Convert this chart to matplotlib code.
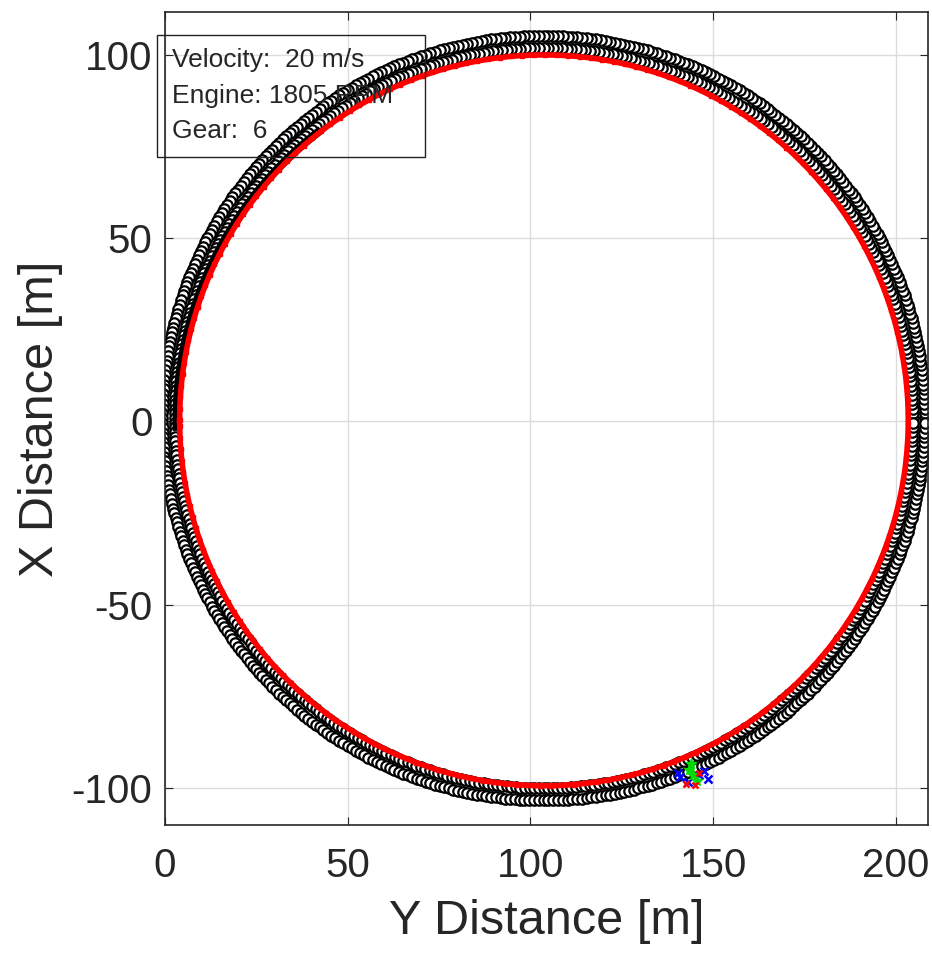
import numpy as np
import matplotlib.pyplot as plt

plt.rcParams['font.family'] = ['Liberation Sans', 'DejaVu Sans']
plt.rcParams['axes.unicode_minus'] = False

# track geometry (metres)
track_center = (103.6, 0.9)
edge_radii = [101.0, 104.3]      # inner / outer road edge markers
n_edge_markers = 500
path_center = (103.7, 0.3)
path_radius = 99.7
start_trace_deg = [181, 128]     # black trace at the start of the lap

# vehicle body markers near the bottom of the lap
veh_blue_x = [141.0, 143.0, 147.5, 148.5, 146.0, 140.5]
veh_blue_y = [-97.0, -98.5, -95.5, -97.5, -96.5, -95.8]
veh_green_x = [143.5, 144.5, 145.5, 144.0]
veh_green_y = [-95.0, -96.5, -98.0, -93.5]
veh_red_x = [142.5, 145.0, 146.0]
veh_red_y = [-98.8, -99.2, -96.0]

info_lines = ['Velocity:  20 m/s', 'Engine: 1805 RPM', 'Gear:  6']

fig = plt.figure(figsize=(9.32, 9.56), dpi=100)
ax = fig.add_axes([165 / 932, 131 / 956, 763 / 932, 813 / 956])

# road edges
th = np.linspace(0, 2 * np.pi, n_edge_markers, endpoint=False)
for r in edge_radii:
    ax.plot(track_center[0] + r * np.cos(th), track_center[1] + r * np.sin(th),
            linestyle='none', marker='o', markersize=7.5, markerfacecolor='white',
            markeredgecolor='black', markeredgewidth=1.6)

# start trace
ts = np.radians(np.linspace(start_trace_deg[0], start_trace_deg[1], 80))
ax.plot(path_center[0] + (path_radius + 0.8) * np.cos(ts),
        path_center[1] + path_radius * np.sin(ts), color='black', lw=6)

# vehicle path
tp = np.linspace(np.pi, -np.pi, 400)
ax.plot(path_center[0] + path_radius * np.cos(tp), path_center[1] + path_radius * np.sin(tp),
        color='red', lw=4, marker='s', markersize=3, markevery=2)

# vehicle
ax.plot(veh_blue_x, veh_blue_y, 'x', color='blue', ms=6, mew=1.8)
ax.plot(veh_green_x, veh_green_y, '*', color='#00dd00', ms=8)
ax.plot(veh_red_x, veh_red_y, 'x', color='red', ms=5, mew=1.8)

# info box
box = plt.Rectangle((-2.2, 72.2), 73.3, 33.3, fill=False, edgecolor='#222222',
                    lw=1.0, clip_on=False, zorder=5)
ax.add_patch(box)
for i, line in enumerate(info_lines):
    ax.text(1.8, 98.6 - i * 9.7, line, fontsize=19, color='#262626',
            va='center', ha='left', zorder=6)

ax.set_xlim(0, 208.8)
ax.set_ylim(-110.1, 111.7)
ax.set_xticks([0, 50, 100, 150, 200])
ax.set_yticks([-100, -50, 0, 50, 100])
ax.grid(True, color='#dcdcdc', lw=1)
ax.set_axisbelow(True)
ax.tick_params(direction='in', top=True, right=True, labelsize=29,
               colors='#262626', length=6, pad=9)
ax.tick_params(axis='x', pad=16)
for s in ax.spines.values():
    s.set_color('#262626')
    s.set_linewidth(1.2)
ax.set_xlabel('Y Distance [m]', fontsize=35, color='#262626', labelpad=10)
ax.set_ylabel('X Distance [m]', fontsize=35, color='#262626', labelpad=6)

fig.savefig('out.png', dpi=100)
